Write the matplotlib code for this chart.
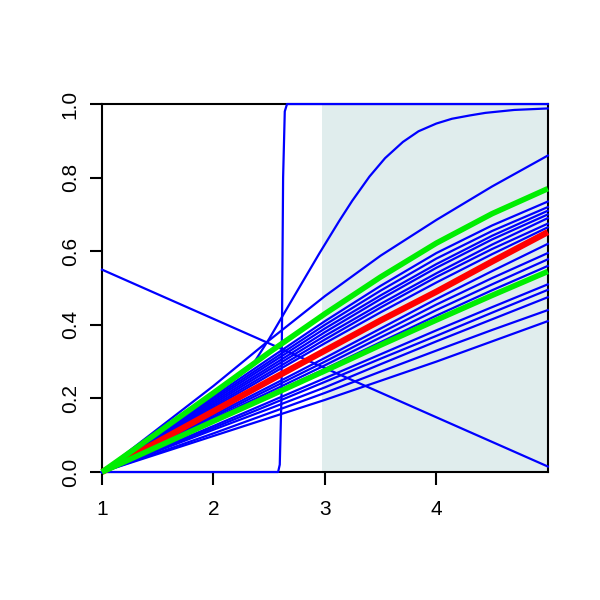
import matplotlib.pyplot as plt
from matplotlib.patches import Rectangle

plt.rcParams['font.family'] = ['Liberation Sans', 'DejaVu Sans']

xs = [1, 1.5, 2, 2.5, 3, 3.5, 4, 4.5, 5]

# blue curves
blue = [
    [0, 0.117, 0.234, 0.358, 0.478, 0.588, 0.685, 0.776, 0.860],
    [0, 0.102, 0.205, 0.308, 0.410, 0.506, 0.595, 0.670, 0.735],
    [0, 0.100, 0.200, 0.300, 0.400, 0.493, 0.580, 0.655, 0.720],
    [0, 0.097, 0.195, 0.293, 0.390, 0.480, 0.565, 0.642, 0.710],
    [0, 0.095, 0.190, 0.285, 0.380, 0.470, 0.555, 0.632, 0.700],
    [0, 0.092, 0.185, 0.278, 0.370, 0.457, 0.540, 0.618, 0.690],
    [0, 0.090, 0.180, 0.270, 0.360, 0.447, 0.530, 0.606, 0.675],
    [0, 0.087, 0.175, 0.263, 0.350, 0.434, 0.515, 0.592, 0.665],
    [0, 0.077, 0.155, 0.232, 0.310, 0.390, 0.470, 0.546, 0.620],
    [0, 0.075, 0.150, 0.225, 0.300, 0.378, 0.455, 0.527, 0.595],
    [0, 0.072, 0.145, 0.217, 0.290, 0.366, 0.440, 0.510, 0.578],
    [0, 0.070, 0.140, 0.210, 0.280, 0.353, 0.425, 0.494, 0.560],
    [0, 0.062, 0.125, 0.190, 0.255, 0.320, 0.385, 0.448, 0.510],
    [0, 0.060, 0.120, 0.182, 0.245, 0.308, 0.370, 0.433, 0.495],
    [0, 0.057, 0.115, 0.172, 0.230, 0.293, 0.355, 0.415, 0.475],
    [0, 0.052, 0.105, 0.160, 0.215, 0.273, 0.330, 0.386, 0.440],
    [0, 0.049, 0.098, 0.147, 0.196, 0.248, 0.300, 0.355, 0.410],
]

# the s-shaped curve
sig_x = [1, 1.5, 2, 2.2, 2.34, 2.5, 2.74, 2.95, 3.13, 3.245, 3.4, 3.54, 3.7,
         3.84, 4.0, 4.14, 4.3, 4.44, 4.7, 5]
sig_y = [0, 0.106, 0.212, 0.255, 0.286, 0.362, 0.486, 0.594, 0.683, 0.737,
         0.803, 0.853, 0.897, 0.926, 0.947, 0.960, 0.969, 0.976, 0.984, 0.988]

# the near-step curve
step_x = [1, 2.58, 2.595, 2.61, 2.625, 2.64, 2.66, 5]
step_y = [0, 0, 0.02, 0.2, 0.8, 0.98, 1.0, 1.0]

# the falling line
fall_x = [1, 5]
fall_y = [0.55, 0.015]

red = [0, 0.082, 0.165, 0.248, 0.330, 0.412, 0.490, 0.572, 0.652]
green = [
    [0, 0.107, 0.215, 0.325, 0.430, 0.530, 0.622, 0.702, 0.770],
    [0, 0.069, 0.138, 0.206, 0.275, 0.345, 0.413, 0.480, 0.545],
]

shade_start = 2.97
xticks = [1, 2, 3, 4]
yticks = [0.0, 0.2, 0.4, 0.6, 0.8, 1.0]
ylabels = ["0.0", "0.2", "0.4", "0.6", "0.8", "1.0"]

fig = plt.figure(figsize=(6, 6), dpi=100)
ax = fig.add_axes([0.17, 0.2133, 0.743, 0.6133])

ax.add_patch(Rectangle((shade_start, 0), 5 - shade_start, 1, color='#e0eded', lw=0, zorder=0))

for ys in blue:
    ax.plot(xs, ys, color='#0000ff', lw=1.6, clip_on=False, zorder=3)
ax.plot(sig_x, sig_y, color='#0000ff', lw=1.6, clip_on=False, zorder=3)
ax.plot(step_x, step_y, color='#0000ff', lw=1.6, clip_on=False, zorder=3)
ax.plot(fall_x, fall_y, color='#0000ff', lw=1.6, clip_on=False, zorder=3)
ax.plot(xs, red, color='#ff0000', lw=4.5, clip_on=False, zorder=4, solid_capstyle='butt')
for ys in green:
    ax.plot(xs, ys, color='#00ee00', lw=4.0, clip_on=False, zorder=5, solid_capstyle='butt')

ax.set_xlim(1, 5)
ax.set_ylim(0, 1)
ax.set_xticks(xticks)
ax.set_yticks(yticks)
ax.set_yticklabels(ylabels, rotation=90, va='center')
ax.tick_params(direction='out', length=9, width=1.5, labelsize=15)
ax.tick_params(axis='x', pad=11)
ax.tick_params(axis='y', pad=7)
for s in ax.spines.values():
    s.set_linewidth(1.5)
    s.set_zorder(2)

fig.savefig('out.png', dpi=100)
